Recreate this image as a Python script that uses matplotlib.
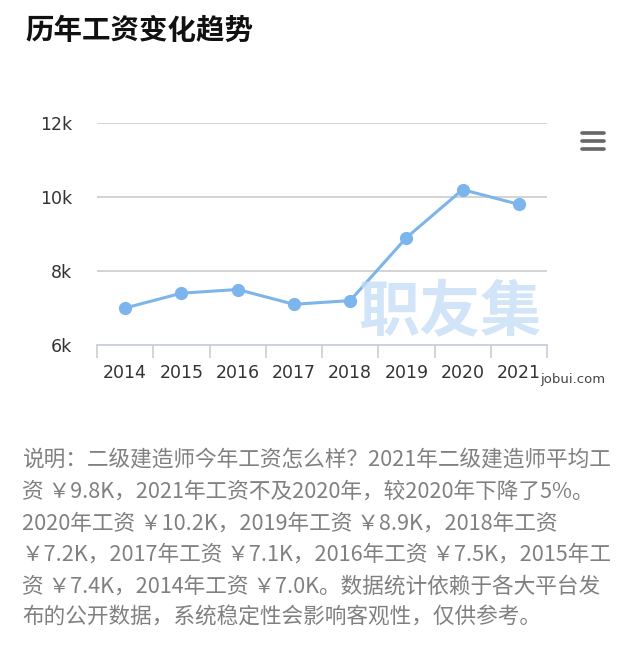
import matplotlib
matplotlib.use('Agg')
import matplotlib.pyplot as plt
from matplotlib.lines import Line2D

plt.rcParams['font.family'] = ['DejaVu Sans', 'Noto Sans CJK SC']

# data
years = ['2014', '2015', '2016', '2017', '2018', '2019', '2020', '2021']
salary = [7.0, 7.4, 7.5, 7.1, 7.2, 8.9, 10.2, 9.8]   # 单位: k
y_ticks = [6, 8, 10, 12]
y_labels = ['6k', '8k', '10k', '12k']

title = '历年工资变化趋势'
watermark = '职友集'
site = 'jobui.com'
notes = [
    '说明：二级建造师今年工资怎么样？2021年二级建造师平均工',
    '资 ￥9.8K，2021年工资不及2020年，较2020年下降了5%。',
    '2020年工资 ￥10.2K，2019年工资 ￥8.9K，2018年工资',
    '￥7.2K，2017年工资 ￥7.1K，2016年工资 ￥7.5K，2015年工',
    '资 ￥7.4K，2014年工资 ￥7.0K。数据统计依赖于各大平台发',
    '布的公开数据，系统稳定性会影响客观性，仅供参考。',
]

W, H = 640, 649
fig = plt.figure(figsize=(W / 100, H / 100), dpi=100)
fig.patch.set_facecolor('white')

ax = fig.add_axes([97 / W, 1 - 345 / H, 450 / W, 222 / H])
x = list(range(len(years)))
ax.plot(x, salary, color='#7cb5ec', lw=2.2, marker='o', markersize=8.5,
        zorder=3, clip_on=False)

ax.set_xlim(-0.5, len(years) - 0.5)
ax.set_ylim(6, 12)
ax.set_yticks(y_ticks)
ax.set_yticklabels(y_labels)
ax.set_xticks(x)
ax.set_xticklabels(years)
ax.set_xticks([i - 0.5 for i in range(len(years) + 1)], minor=True)

for v in y_ticks[1:]:
    ax.axhline(v, color='#c8c8c8', lw=1.1, zorder=1)
for s in ['top', 'right', 'left']:
    ax.spines[s].set_visible(False)
ax.spines['bottom'].set_color('#c3cbd6')
ax.spines['bottom'].set_linewidth(1.2)

ax.tick_params(axis='y', length=0, pad=18, labelsize=12.5, labelcolor='#333333')
ax.tick_params(axis='x', which='major', length=0, pad=14, labelsize=12.5,
               labelcolor='#333333')
ax.tick_params(axis='x', which='minor', length=9, width=1.1, color='#c3cbd6')

# watermark
ax.text(0.785, 0.145, watermark, transform=ax.transAxes, ha='center', va='center',
        fontsize=44, fontweight='bold', color='#c4dcf5', alpha=0.75,
        family=['Noto Sans CJK SC'], zorder=4)

fig.text(540 / W, 1 - 380 / H, site, ha='left', va='center', fontsize=9.5,
         color='#444444')

# menu icon
for yy in [133, 141, 149]:
    fig.add_artist(Line2D([582 / W, 604 / W], [1 - yy / H, 1 - yy / H],
                          color='#666666', lw=2.6, solid_capstyle='round'))

fig.text(25 / W, 1 - 31 / H, title, ha='left', va='center', fontsize=20.5,
         fontweight='bold', color='#111111', family=['Noto Sans CJK SC'])

for i, line in enumerate(notes):
    fig.text(22 / W, 1 - (460 + i * 31.6) / H, line, ha='left', va='center',
             fontsize=15.6, color='#808080', family=['Noto Sans CJK SC', 'DejaVu Sans'])

fig.savefig('out.png', dpi=100, facecolor='white')
